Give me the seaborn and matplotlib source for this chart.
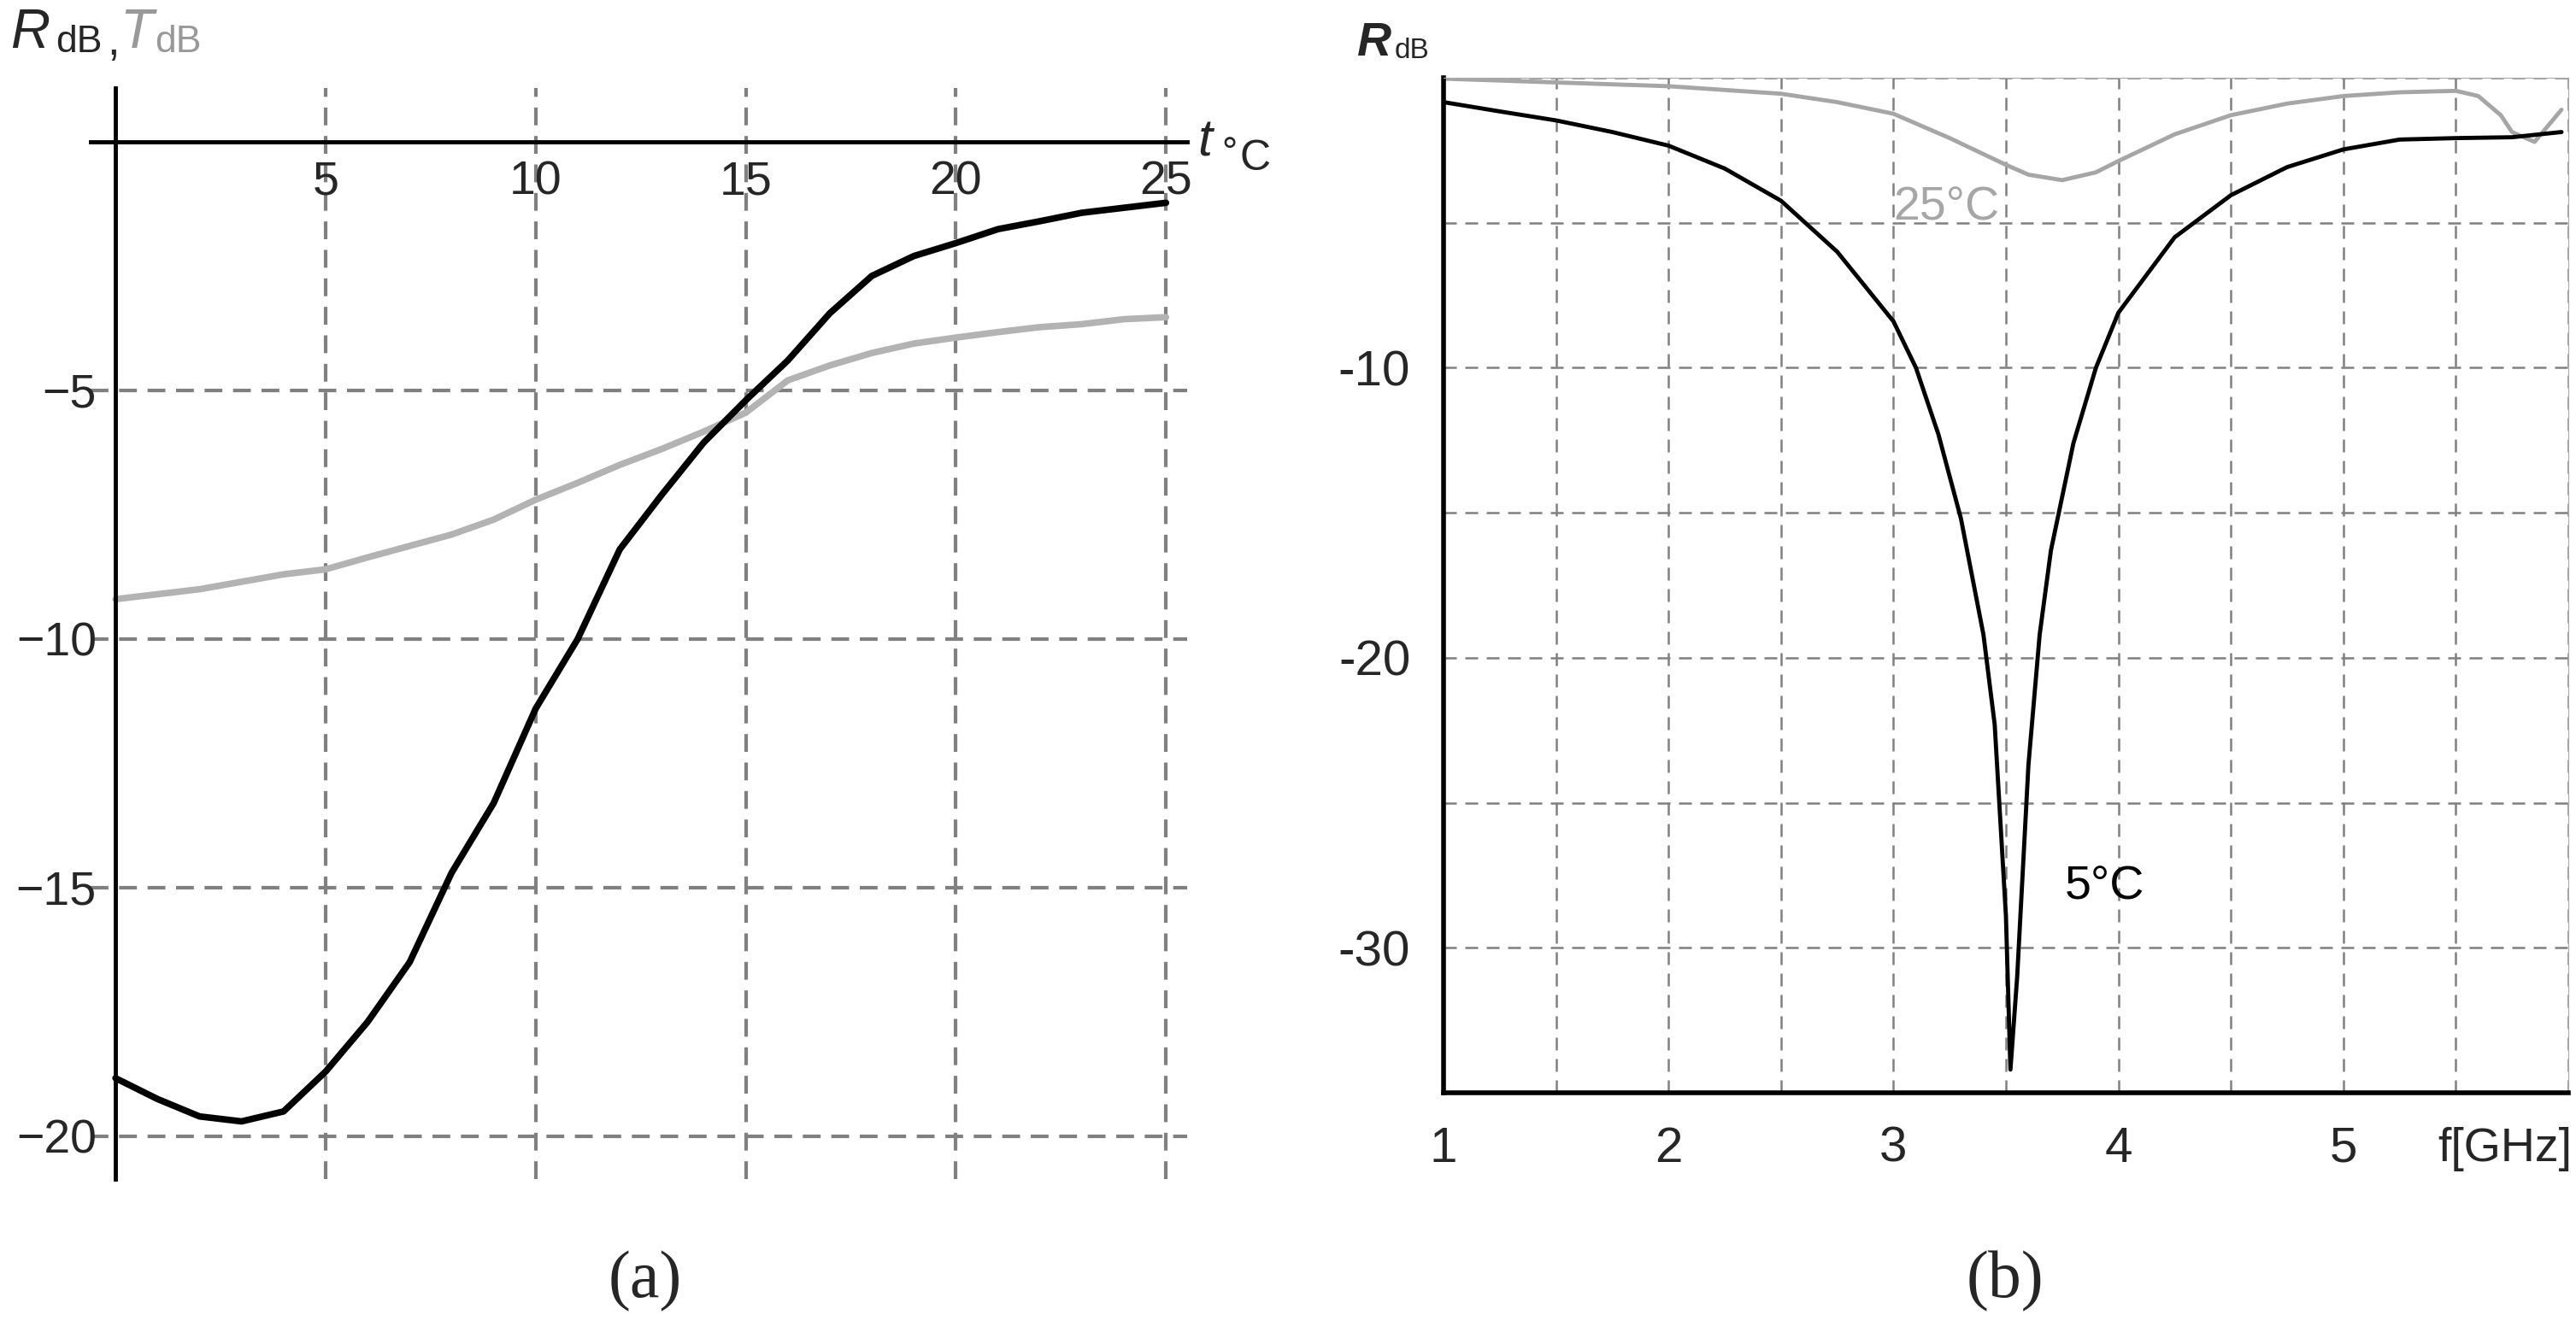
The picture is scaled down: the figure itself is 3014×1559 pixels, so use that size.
import numpy as np
import pandas as pd
import matplotlib
matplotlib.use("Agg")
import matplotlib.pyplot as plt
import seaborn as sns

sns.set_style("white")
plt.rcParams['font.family'] = ['Liberation Sans', 'DejaVu Sans']
plt.rcParams['axes.unicode_minus'] = False
plt.rcParams['mathtext.fontset'] = 'custom'
plt.rcParams['mathtext.rm'] = 'Liberation Sans'
plt.rcParams['mathtext.it'] = 'Liberation Sans:italic'
plt.rcParams['mathtext.bf'] = 'Liberation Sans:bold:italic'

# ---- panel (a) data ----
t_c = list(range(26))
R_db_a = [-18.83, -19.25, -19.6, -19.7, -19.5, -18.7, -17.7, -16.5, -14.7, -13.3,
          -11.4, -10.0, -8.2, -7.1, -6.05, -5.2, -4.4, -3.45, -2.7, -2.3,
          -2.04, -1.76, -1.6, -1.43, -1.33, -1.23]
T_db_a = [-9.2, -9.1, -9.0, -8.85, -8.7, -8.6, -8.36, -8.13, -7.9, -7.6,
          -7.2, -6.86, -6.5, -6.18, -5.83, -5.45, -4.8, -4.5, -4.25, -4.06,
          -3.94, -3.83, -3.73, -3.67, -3.57, -3.53]

# ---- panel (b) data ----
f_5 = [1.0, 1.25, 1.5, 1.75, 2.0, 2.25, 2.5, 2.75, 3.0, 3.1, 3.2, 3.3, 3.4, 3.45,
       3.5, 3.52, 3.55, 3.6, 3.65, 3.7, 3.8, 3.9, 4.0, 4.25, 4.5, 4.75, 5.0, 5.25,
       5.5, 5.75, 5.97]
R_5 = [-0.84, -1.16, -1.47, -1.87, -2.34, -3.13, -4.24, -6.0, -8.4, -10.0, -12.3,
       -15.2, -19.2, -22.3, -28.9, -34.2, -31.0, -23.7, -19.2, -16.3, -12.6, -10.0,
       -8.1, -5.5, -4.05, -3.08, -2.47, -2.13, -2.08, -2.05, -1.87]
f_25 = [1.0, 1.5, 2.0, 2.5, 2.75, 3.0, 3.25, 3.5, 3.6, 3.75, 3.9, 4.0, 4.25, 4.5,
        4.75, 5.0, 5.25, 5.5, 5.6, 5.7, 5.75, 5.85, 5.97]
R_25 = [-0.03, -0.16, -0.29, -0.55, -0.84, -1.24, -2.08, -3.0, -3.34, -3.53, -3.26,
        -2.87, -1.95, -1.29, -0.89, -0.63, -0.5, -0.45, -0.63, -1.29, -1.87, -2.21, -1.1]

GRID = '#808080'
fig = plt.figure(figsize=(30.14, 15.59), dpi=100)

# ================= panel (a) =================
ax = fig.add_axes([0.0352, 0.1148, 0.4256, 0.8192])
sns.lineplot(x=t_c, y=T_db_a, ax=ax, color='#b3b3b3', lw=5.5)
sns.lineplot(x=t_c, y=R_db_a, ax=ax, color='black', lw=5.5)
ax.set_xlim(-0.59, 25.5)
ax.set_ylim(-20.86, 1.08)
for v in [5, 10, 15, 20, 25]:
    ax.axvline(v, color=GRID, lw=3, ls=(0, (5, 3)), zorder=0)
for v in [-5, -10, -15, -20]:
    ax.axhline(v, color=GRID, lw=3, ls=(0, (5, 3)), zorder=0)
for s in ['top', 'right']:
    ax.spines[s].set_visible(False)
ax.spines['left'].set_position(('data', 0))
ax.spines['bottom'].set_position(('data', 0))
for s in ['left', 'bottom']:
    ax.spines[s].set_linewidth(3.5)
    ax.spines[s].set_color('black')
ax.set_xticks([5, 10, 15, 20, 25])
ax.set_xticks(range(1, 26), minor=True)
ax.set_yticks([-5, -10, -15, -20])
ax.set_yticks(range(-20, 1), minor=True)
ax.set_xticklabels(['5', '10', '15', '20', '25'])
ax.set_yticklabels(['−5', '−10', '−15', '−20'])
ax.tick_params(axis='both', which='major', length=0, labelsize=40, pad=16)
ax.tick_params(axis='both', which='minor', length=10, width=3, direction='inout', color='#444444')
ax.set_xlabel('')
ax.set_ylabel('')
ax.text(25.75, 0, r'$t$', fontsize=44, va='center', ha='left')
ax.text(26.25, -0.05, '∘', fontsize=30, va='center', ha='left')
ax.text(26.75, -0.35, 'C', fontsize=36, va='center', ha='left')
fig.text(0.004, 0.975, r'$R$', fontsize=46, va='center', ha='left')
fig.text(0.0215, 0.968, 'dB', fontsize=32, va='center', ha='left')
fig.text(0.0415, 0.968, ',', fontsize=38, va='center', ha='left')
fig.text(0.0465, 0.975, r'$T$', fontsize=46, va='center', ha='left', color='#999999')
fig.text(0.060, 0.968, 'dB', fontsize=32, va='center', ha='left', color='#999999')
fig.text(0.2505, 0.038, '(a)', fontsize=56, family='Liberation Serif', ha='center', va='center')

# ================= panel (b) =================
bx = fig.add_axes([0.5604, 0.1796, 0.4366, 0.7620])
sns.lineplot(x=f_25, y=R_25, ax=bx, color='#a6a6a6', lw=3.5)
sns.lineplot(x=f_5, y=R_5, ax=bx, color='black', lw=3.5)
bx.set_xlim(1, 6.0)
bx.set_ylim(-35, 0)
bx.set_xticks([1, 2, 3, 4, 5])
bx.set_xticks(np.arange(1, 6.01, 0.5), minor=True)
bx.set_yticks([-10, -20, -30])
bx.set_yticks(range(-35, 1, 5), minor=True)
bx.grid(True, which='both', color=GRID, lw=1.8, ls=(0, (6, 4)))
bx.set_axisbelow(True)
for s in ['left', 'bottom']:
    bx.spines[s].set_linewidth(4)
    bx.spines[s].set_color('black')
for s in ['top', 'right']:
    bx.spines[s].set_linewidth(0.8)
    bx.spines[s].set_color('#aaaaaa')
bx.tick_params(axis='both', which='major', labelsize=42, pad=22, length=12, width=3,
               direction='inout', color='black')
bx.tick_params(axis='both', which='minor', length=12, width=3, direction='inout', color='black')
bx.set_xlabel('')
bx.set_ylabel('')
bx.text(3.0, -4.5, '25°C', fontsize=40, color='#a6a6a6', ha='left', va='center')
bx.text(3.76, -27.9, '5°C', fontsize=40, color='black', ha='left', va='center')
fig.text(0.9985, 0.137, 'f[GHz]', fontsize=40, ha='right', va='center')
fig.text(0.5265, 0.967, r'$\mathbf{R}$', fontsize=40, ha='left', va='center')
fig.text(0.5415, 0.962, 'dB', fontsize=24, ha='left', va='center')
fig.text(0.7785, 0.038, '(b)', fontsize=56, family='Liberation Serif', ha='center', va='center')

fig.savefig('out.png', dpi=100)
